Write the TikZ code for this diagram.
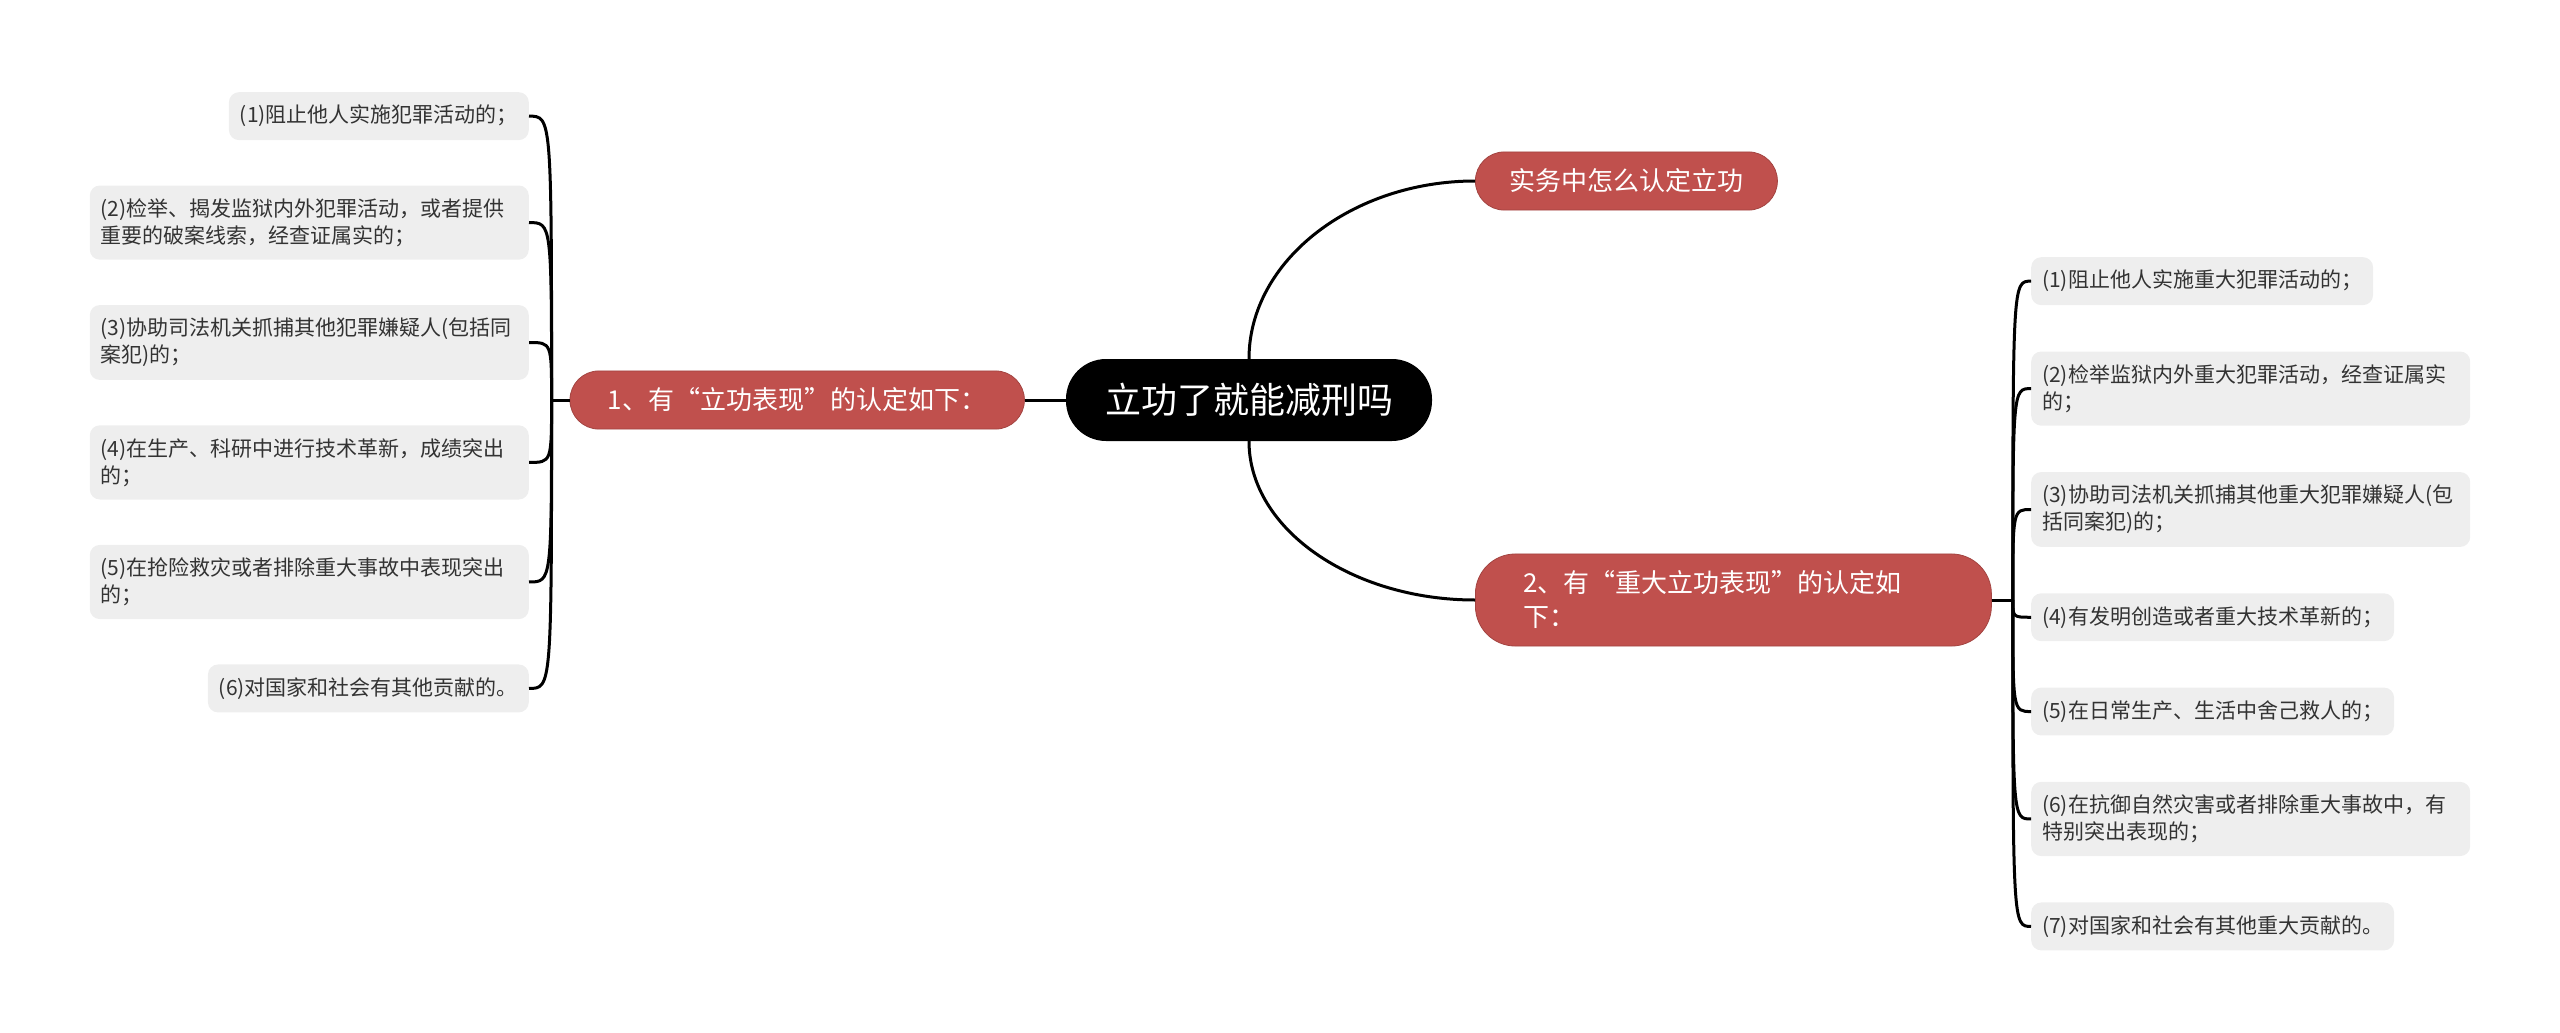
\documentclass[tikz,border=0pt]{standalone}
\usepackage{fontspec}
\setmainfont{Noto Sans CJK SC}
\usepackage{xcolor}
\usepackage{tikz}
\usetikzlibrary{positioning,calc}
\definecolor{TopicRed}{RGB}{192,80,77}
\definecolor{LeafGray}{RGB}{238,238,238}
\definecolor{LeafInk}{RGB}{51,51,51}

\begin{document}
\begin{tikzpicture}[x=1pt, y=-1pt,
    root/.style={fill=black, text=white, rounded corners=40pt, inner xsep=39pt, minimum height=82pt, font=\fontsize{36}{42}\selectfont},
    topic/.style={fill=TopicRed, draw=TopicRed!85!black, line width=0.8pt, text=white, rounded corners=29pt, inner xsep=34pt, inner ysep=17pt, align=left, font=\fontsize{26}{34}\selectfont},
    leaf/.style={fill=LeafGray, text=LeafInk, rounded corners=10pt, inner xsep=11pt, inner ysep=13pt, align=left, font=\fontsize{21}{27}\selectfont},
    wide/.style={text width=417pt},
    link/.style={line width=3pt, draw=black}
  ]
    \useasboundingbox (0,0) rectangle (2560,1033);
    \node[root] (root) at (1249,400) {立功了就能减刑吗};
    \node[topic, left=41pt of root, inner xsep=38pt] (t1) {1、有“立功表现”的认定如下：};
    \node[topic, anchor=west] (t2) at (1475,181) {实务中怎么认定立功};
    \node[topic, anchor=west, text width=420pt, inner xsep=48pt, rounded corners=40pt] (t3) at (1475,600) {2、有“重大立功表现”的认定如\\下：};
    \coordinate (lhub) at ([xshift=-18pt]t1.west);
    \coordinate (rhub) at ([xshift=21pt]t3.east);

    \node[leaf, anchor=north east] (l1) at (529,92) {(1)阻止他人实施犯罪活动的；};
    \node[leaf, wide, below=45pt of l1.south east, anchor=north east] (l2) {(2)检举、揭发监狱内外犯罪活动，或者提供\\重要的破案线索，经查证属实的；};
    \node[leaf, wide, below=45pt of l2.south east, anchor=north east] (l3) {(3)协助司法机关抓捕其他犯罪嫌疑人(包括同\\案犯)的；};
    \node[leaf, wide, below=45pt of l3.south east, anchor=north east] (l4) {(4)在生产、科研中进行技术革新，成绩突出\\的；};
    \node[leaf, wide, below=45pt of l4.south east, anchor=north east] (l5) {(5)在抢险救灾或者排除重大事故中表现突出\\的；};
    \node[leaf, below=45pt of l5.south east, anchor=north east] (l6) {(6)对国家和社会有其他贡献的。};

    \node[leaf, anchor=north west] (r1) at (2031,257) {(1)阻止他人实施重大犯罪活动的；};
    \node[leaf, wide, below=46pt of r1.south west, anchor=north west] (r2) {(2)检举监狱内外重大犯罪活动，经查证属实\\的；};
    \node[leaf, wide, below=46pt of r2.south west, anchor=north west] (r3) {(3)协助司法机关抓捕其他重大犯罪嫌疑人(包\\括同案犯)的；};
    \node[leaf, below=46pt of r3.south west, anchor=north west] (r4) {(4)有发明创造或者重大技术革新的；};
    \node[leaf, below=46pt of r4.south west, anchor=north west] (r5) {(5)在日常生产、生活中舍己救人的；};
    \node[leaf, wide, below=46pt of r5.south west, anchor=north west] (r6) {(6)在抗御自然灾害或者排除重大事故中，有\\特别突出表现的；};
    \node[leaf, below=46pt of r6.south west, anchor=north west] (r7) {(7)对国家和社会有其他重大贡献的。};

    \draw[link] (root) -- (t1);
    \draw[link] (root.north) .. controls ([yshift=98pt]root.north) and ([xshift=-123pt]t2.west) .. (t2.west);
    \draw[link] (root.south) .. controls ([yshift=-88pt]root.south) and ([xshift=-123pt]t3.west) .. (t3.west);

    \draw[link] (t1.west) -- (lhub);
    \draw[link] (t3.east) -- (rhub);
    \draw[link] (lhub) .. controls (lhub |- l1.east) .. (l1.east);
    \draw[link] (lhub) .. controls (lhub |- l2.east) .. (l2.east);
    \draw[link] (lhub) .. controls (lhub |- l3.east) .. (l3.east);
    \draw[link] (lhub) .. controls (lhub |- l4.east) .. (l4.east);
    \draw[link] (lhub) .. controls (lhub |- l5.east) .. (l5.east);
    \draw[link] (lhub) .. controls (lhub |- l6.east) .. (l6.east);
    \draw[link] (rhub) .. controls (rhub |- r1.west) .. (r1.west);
    \draw[link] (rhub) .. controls (rhub |- r2.west) .. (r2.west);
    \draw[link] (rhub) .. controls (rhub |- r3.west) .. (r3.west);
    \draw[link] (rhub) .. controls (rhub |- r4.west) .. (r4.west);
    \draw[link] (rhub) .. controls (rhub |- r5.west) .. (r5.west);
    \draw[link] (rhub) .. controls (rhub |- r6.west) .. (r6.west);
    \draw[link] (rhub) .. controls (rhub |- r7.west) .. (r7.west);
  \end{tikzpicture}
\end{document}
